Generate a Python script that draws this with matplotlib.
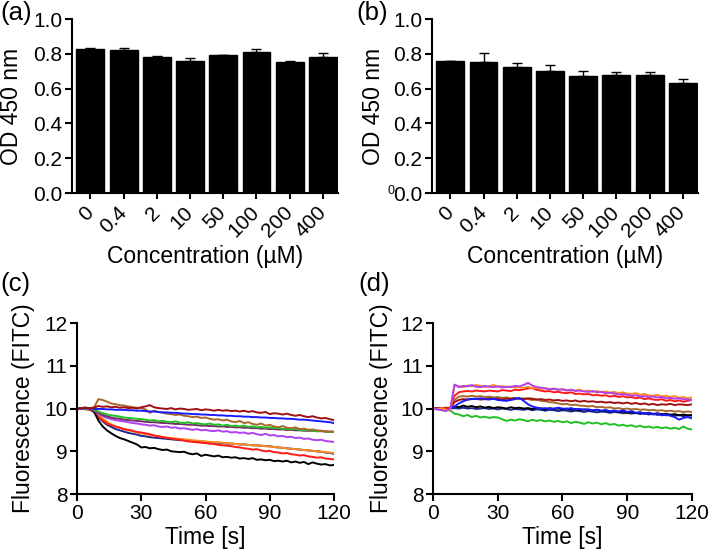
import numpy as np
import matplotlib
matplotlib.use("Agg")
import matplotlib.pyplot as plt

plt.rcParams['font.family'] = ['Liberation Sans', 'DejaVu Sans']

# ---------------- data ----------------
conc_labels = ['0', '0.4', '2', '10', '50', '100', '200', '400']
od_a = [0.826, 0.822, 0.780, 0.759, 0.793, 0.813, 0.755, 0.784]
err_a = [0.010, 0.014, 0.010, 0.015, 0.002, 0.013, 0.002, 0.019]
od_b = [0.759, 0.753, 0.725, 0.704, 0.675, 0.679, 0.679, 0.631]
err_b = [0.002, 0.050, 0.021, 0.030, 0.027, 0.017, 0.017, 0.023]

time_s = list(range(0, 121, 2))

c_black = [10.00,10.01,10.02,10.00,9.92,9.72,9.58,9.49,9.42,9.36,9.31,9.28,9.24,9.20,9.16,9.09,9.10,9.07,9.08,9.05,9.03,9.04,9.00,8.99,8.98,8.99,8.95,8.93,8.95,8.89,8.92,8.90,8.88,8.90,8.86,8.87,8.85,8.86,8.83,8.84,8.82,8.84,8.80,8.81,8.79,8.80,8.77,8.78,8.76,8.78,8.74,8.76,8.73,8.75,8.70,8.74,8.71,8.69,8.70,8.67,8.68]
c_maroon = [10.00,10.01,10.02,10.00,10.02,10.06,10.04,10.05,10.03,10.04,10.02,10.03,10.01,10.02,10.00,10.03,10.05,10.08,10.03,10.01,10.00,9.99,10.01,9.98,10.00,9.99,9.97,9.98,9.99,9.96,9.98,9.97,9.95,9.97,9.95,9.96,9.94,9.95,9.93,9.95,9.92,9.94,9.91,9.90,9.92,9.87,9.89,9.88,9.86,9.88,9.85,9.83,9.85,9.82,9.80,9.82,9.79,9.77,9.78,9.75,9.73]
c_blue = [10.00,10.00,10.01,10.00,9.99,9.99,9.99,9.98,9.98,9.97,9.97,9.97,9.96,9.96,9.95,9.95,9.94,9.93,9.93,9.92,9.91,9.91,9.90,9.90,9.89,9.88,9.88,9.87,9.87,9.86,9.86,9.85,9.85,9.84,9.84,9.83,9.83,9.82,9.82,9.81,9.81,9.80,9.80,9.79,9.79,9.78,9.78,9.77,9.77,9.76,9.76,9.75,9.74,9.74,9.73,9.72,9.71,9.70,9.69,9.68,9.66]
c_brown = [10.00,10.01,10.02,10.01,10.03,10.22,10.20,10.16,10.12,10.10,10.08,10.07,10.05,10.03,10.02,10.01,9.98,9.90,9.95,9.92,9.90,9.88,9.87,9.85,9.86,9.83,9.82,9.80,9.81,9.78,9.79,9.76,9.74,9.75,9.72,9.74,9.70,9.68,9.71,9.66,9.68,9.64,9.62,9.65,9.60,9.62,9.58,9.56,9.59,9.55,9.54,9.56,9.52,9.53,9.50,9.51,9.49,9.48,9.47,9.46,9.45]
c_green = [10.00,10.01,10.00,10.00,9.97,9.93,9.89,9.86,9.84,9.83,9.81,9.79,9.78,9.77,9.76,9.75,9.74,9.72,9.73,9.70,9.71,9.69,9.68,9.70,9.67,9.66,9.68,9.65,9.66,9.64,9.63,9.65,9.62,9.63,9.60,9.62,9.59,9.60,9.58,9.60,9.57,9.58,9.56,9.57,9.55,9.56,9.54,9.55,9.52,9.53,9.51,9.52,9.50,9.49,9.50,9.48,9.47,9.48,9.46,9.45,9.45]
c_plum = [10.00,10.00,10.01,10.00,9.96,9.90,9.85,9.82,9.79,9.77,9.76,9.74,9.73,9.72,9.71,9.70,9.69,9.68,9.68,9.67,9.66,9.66,9.65,9.64,9.64,9.63,9.62,9.62,9.61,9.60,9.60,9.59,9.59,9.58,9.58,9.57,9.57,9.56,9.56,9.55,9.55,9.54,9.54,9.53,9.53,9.52,9.52,9.51,9.51,9.50,9.50,9.49,9.49,9.48,9.48,9.48,9.47,9.47,9.46,9.46,9.46]
c_violet = [10.00,10.01,10.00,9.99,9.95,9.88,9.82,9.78,9.75,9.73,9.71,9.70,9.68,9.66,9.65,9.63,9.62,9.60,9.61,9.58,9.57,9.58,9.55,9.56,9.53,9.54,9.52,9.50,9.52,9.49,9.50,9.48,9.47,9.49,9.46,9.47,9.44,9.45,9.43,9.44,9.41,9.43,9.40,9.38,9.41,9.37,9.38,9.35,9.36,9.33,9.34,9.31,9.32,9.29,9.30,9.27,9.26,9.27,9.24,9.23,9.22]
c_navy = [10.00,10.01,10.00,9.99,9.93,9.80,9.70,9.62,9.57,9.52,9.49,9.46,9.43,9.41,9.39,9.36,9.35,9.33,9.32,9.31,9.30,9.29,9.28,9.27,9.26,9.26,9.25,9.24,9.23,9.23,9.22,9.21,9.20,9.20,9.19,9.18,9.18,9.17,9.16,9.16,9.15,9.14,9.14,9.13,9.12,9.12,9.10,9.09,9.08,9.07,9.06,9.05,9.04,9.03,9.02,9.01,9.00,8.99,8.97,8.96,8.94]
c_orange = [10.00,10.00,9.99,9.98,9.93,9.84,9.76,9.69,9.63,9.58,9.55,9.52,9.49,9.47,9.44,9.42,9.40,9.38,9.37,9.35,9.34,9.32,9.31,9.30,9.29,9.28,9.27,9.26,9.25,9.24,9.23,9.22,9.21,9.21,9.20,9.19,9.18,9.17,9.17,9.16,9.15,9.14,9.14,9.13,9.12,9.11,9.10,9.09,9.08,9.07,9.06,9.05,9.04,9.03,9.02,9.01,9.00,8.99,8.98,8.97,8.96]
c_red = [10.00,10.00,9.98,9.97,9.92,9.80,9.72,9.65,9.61,9.58,9.55,9.52,9.50,9.48,9.45,9.44,9.42,9.40,9.37,9.35,9.33,9.31,9.30,9.28,9.27,9.25,9.23,9.22,9.21,9.20,9.19,9.18,9.17,9.15,9.14,9.13,9.12,9.10,9.09,9.07,9.06,9.04,9.05,9.02,9.00,9.01,8.98,8.97,8.95,8.96,8.93,8.92,8.90,8.91,8.88,8.87,8.85,8.86,8.83,8.82,8.81]

d_orange = [10.00,9.98,10.01,9.97,9.96,10.55,10.52,10.50,10.54,10.52,10.55,10.53,10.50,10.52,10.55,10.51,10.53,10.50,10.52,10.49,10.50,10.48,10.51,10.47,10.49,10.46,10.48,10.45,10.47,10.44,10.45,10.43,10.44,10.42,10.44,10.40,10.42,10.39,10.41,10.38,10.40,10.37,10.39,10.36,10.38,10.35,10.34,10.36,10.32,10.34,10.31,10.30,10.32,10.28,10.30,10.27,10.29,10.25,10.27,10.24,10.26]
d_violet = [10.00,9.98,9.96,9.94,10.00,10.56,10.50,10.53,10.52,10.55,10.51,10.50,10.53,10.51,10.50,10.52,10.49,10.51,10.50,10.53,10.52,10.55,10.60,10.54,10.50,10.49,10.47,10.45,10.46,10.44,10.45,10.42,10.44,10.41,10.42,10.40,10.39,10.41,10.38,10.39,10.36,10.37,10.35,10.33,10.34,10.32,10.30,10.31,10.28,10.29,10.27,10.28,10.26,10.27,10.24,10.25,10.23,10.24,10.22,10.21,10.20]
d_red = [10.00,10.00,9.99,10.01,10.02,10.30,10.38,10.40,10.41,10.40,10.42,10.41,10.40,10.42,10.41,10.40,10.43,10.42,10.41,10.44,10.43,10.45,10.47,10.48,10.44,10.42,10.40,10.41,10.38,10.39,10.37,10.36,10.38,10.34,10.35,10.33,10.34,10.31,10.32,10.30,10.31,10.28,10.30,10.27,10.29,10.26,10.27,10.24,10.26,10.22,10.24,10.21,10.20,10.22,10.18,10.20,10.17,10.19,10.16,10.18,10.20]
d_maroon = [10.00,10.00,10.01,10.00,10.02,10.15,10.20,10.22,10.21,10.22,10.23,10.21,10.22,10.24,10.22,10.23,10.21,10.23,10.22,10.24,10.23,10.22,10.24,10.23,10.21,10.22,10.20,10.21,10.19,10.20,10.18,10.19,10.17,10.19,10.16,10.18,10.16,10.17,10.15,10.16,10.14,10.15,10.13,10.14,10.12,10.14,10.11,10.13,10.10,10.12,10.09,10.11,10.08,10.10,10.09,10.11,10.08,10.10,10.09,10.08,10.10]
d_brown = [10.00,10.00,10.01,10.00,10.02,10.20,10.28,10.29,10.28,10.30,10.28,10.29,10.27,10.28,10.26,10.27,10.25,10.26,10.24,10.25,10.23,10.24,10.22,10.20,10.21,10.18,10.17,10.15,10.14,10.12,10.10,10.11,10.08,10.09,10.07,10.06,10.05,10.06,10.03,10.04,10.02,10.03,10.00,10.01,9.99,10.00,9.98,9.99,9.97,9.98,9.96,9.97,9.95,9.96,9.94,9.95,9.93,9.94,9.92,9.93,9.92]
d_blue = [10.00,9.99,10.00,9.98,10.01,10.05,10.12,10.17,10.21,10.23,10.22,10.24,10.22,10.21,10.23,10.20,10.19,10.18,10.20,10.22,10.25,10.18,10.10,10.05,10.02,10.00,10.01,9.99,10.00,10.02,10.00,9.99,10.01,9.98,9.99,9.97,9.98,9.96,9.97,9.95,9.96,9.94,9.95,9.93,9.96,9.92,9.94,9.90,9.91,9.88,9.90,9.86,9.88,9.84,9.86,9.83,9.80,9.74,9.78,9.80,9.77]
d_black = [10.00,10.01,9.99,10.02,10.01,10.05,10.03,10.07,10.04,10.06,10.03,10.05,10.02,10.04,10.01,10.03,10.02,10.00,10.03,10.01,10.02,10.00,10.01,9.99,10.02,10.00,9.98,10.01,9.99,10.00,9.98,10.00,9.97,9.99,9.96,9.98,9.97,9.95,9.97,9.94,9.96,9.93,9.95,9.92,9.94,9.90,9.92,9.89,9.91,9.88,9.90,9.87,9.89,9.86,9.88,9.85,9.87,9.84,9.86,9.84,9.85]
d_navy = [10.00,10.00,10.01,10.00,10.00,10.01,10.00,10.02,10.00,10.01,9.99,10.00,10.01,9.99,10.00,9.98,10.00,9.99,9.97,9.99,9.98,9.97,9.99,9.96,9.98,9.97,9.95,9.97,9.96,9.94,9.96,9.95,9.93,9.95,9.94,9.92,9.94,9.93,9.91,9.93,9.92,9.90,9.92,9.91,9.89,9.90,9.88,9.90,9.87,9.89,9.86,9.88,9.85,9.87,9.84,9.86,9.83,9.85,9.82,9.84,9.83]
d_green = [10.00,9.99,10.00,9.98,9.95,9.88,9.86,9.82,9.85,9.80,9.83,9.79,9.81,9.78,9.80,9.79,9.75,9.71,9.74,9.72,9.75,9.73,9.70,9.74,9.71,9.73,9.70,9.72,9.69,9.71,9.68,9.70,9.66,9.69,9.67,9.64,9.68,9.65,9.67,9.63,9.66,9.62,9.64,9.60,9.62,9.59,9.61,9.57,9.60,9.56,9.58,9.55,9.57,9.54,9.56,9.53,9.55,9.52,9.58,9.53,9.51]

# ---------------- styling ----------------
COL = {
    'black': '#000000', 'maroon': '#a01010', 'blue': '#1a1aff', 'brown': '#a8692c',
    'green': '#22c022', 'plum': '#7b2a6e', 'violet': '#b040f0', 'navy': '#1a2a8c',
    'orange': '#ff8c1a', 'red': '#ff1a1a',
}
TICK_FS = 15
LABEL_FS = 16.5
LETTER_FS = 18.5

fig = plt.figure(figsize=(7.09, 5.51), dpi=100)


def style_axes(ax):
    for s in ['top', 'right']:
        ax.spines[s].set_visible(False)
    for s in ['left', 'bottom']:
        ax.spines[s].set_linewidth(1.5)
    ax.tick_params(axis='both', direction='out', length=5, width=1.5,
                   labelsize=TICK_FS, pad=2)


def bar_panel(rect, vals, errs, letter_xy, letter):
    ax = fig.add_axes(rect)
    x = np.arange(len(conc_labels))
    ax.bar(x, vals, width=0.84, color='black', edgecolor='black',
           yerr=[np.zeros(len(errs)), errs], capsize=3.5,
           error_kw=dict(ecolor='black', elinewidth=1.0, capthick=1.0))
    ax.set_xlim(-0.55, 7.45)
    ax.set_ylim(0, 1.0)
    ax.set_yticks([0, 0.2, 0.4, 0.6, 0.8, 1.0])
    ax.set_yticklabels(['0.0', '0.2', '0.4', '0.6', '0.8', '1.0'])
    ax.set_xticks(x)
    ax.set_xticklabels(conc_labels, rotation=45, ha='right',
                       va='center', rotation_mode='anchor')
    style_axes(ax)
    ax.tick_params(axis='x', length=4, pad=8)
    ax.set_ylabel('OD 450 nm', fontsize=LABEL_FS)
    ax.set_xlabel('Concentration (µM)', fontsize=LABEL_FS, labelpad=3)
    fig.text(letter_xy[0], letter_xy[1], letter, fontsize=LETTER_FS, va='top', ha='left')
    return ax


def line_panel(rect, series, letter_xy, letter):
    ax = fig.add_axes(rect)
    for vals, c in series:
        ax.plot(time_s, vals, color=COL[c], lw=1.4)
    ax.set_xlim(0, 120)
    ax.set_ylim(8, 12)
    ax.set_xticks([0, 30, 60, 90, 120])
    ax.set_yticks([8, 9, 10, 11, 12])
    style_axes(ax)
    ax.set_ylabel('Fluorescence (FITC)', fontsize=LABEL_FS)
    ax.set_xlabel('Time [s]', fontsize=LABEL_FS, labelpad=2)
    fig.text(letter_xy[0], letter_xy[1], letter, fontsize=LETTER_FS, va='top', ha='left')
    return ax


ax_a = bar_panel([0.1016, 0.6497, 0.375, 0.3158], od_a, err_a, (0.0, 0.998), '(a)')
ax_a.yaxis.set_label_coords(-0.185, 0.5)
ax_b = bar_panel([0.6093, 0.6497, 0.375, 0.3158], od_b, err_b, (0.503, 0.998), '(b)')
ax_b.yaxis.set_label_coords(-0.175, 0.5)
fig.text(0.551, 0.654, '0', fontsize=9, va='center', ha='center')

series_c = [(c_navy, 'navy'), (c_orange, 'orange'), (c_red, 'red'), (c_black, 'black'),
            (c_violet, 'violet'), (c_plum, 'plum'), (c_green, 'green'),
            (c_brown, 'brown'), (c_blue, 'blue'), (c_maroon, 'maroon')]
series_d = [(d_green, 'green'), (d_navy, 'navy'), (d_black, 'black'), (d_brown, 'brown'),
            (d_maroon, 'maroon'), (d_blue, 'blue'), (d_red, 'red'),
            (d_orange, 'orange'), (d_violet, 'violet')]

ax_c = line_panel([0.1086, 0.1034, 0.3625, 0.3103], series_c, (0.0, 0.507), '(c)')
ax_c.yaxis.set_label_coords(-0.165, 0.5)
ax_d = line_panel([0.6107, 0.1034, 0.3653, 0.3103], series_d, (0.505, 0.507), '(d)')
ax_d.yaxis.set_label_coords(-0.155, 0.5)

fig.savefig('out.png', dpi=100)
